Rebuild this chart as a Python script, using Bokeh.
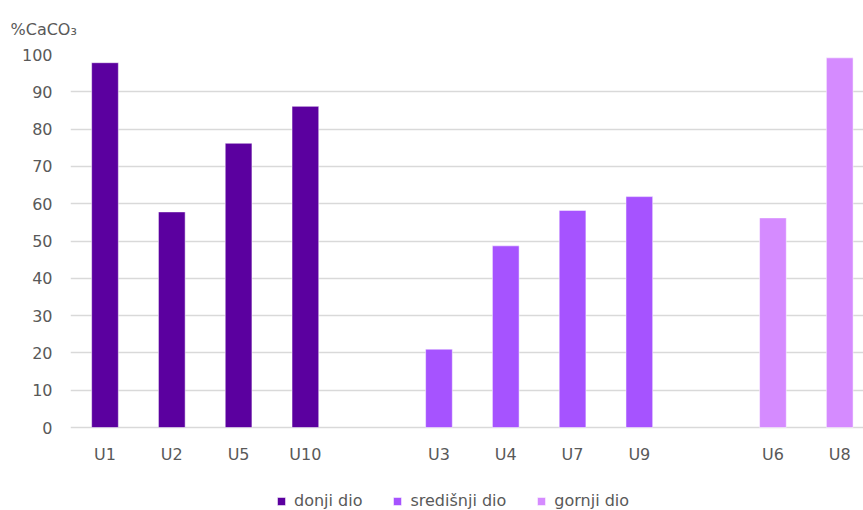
from bokeh.plotting import figure
from bokeh.models import Range1d, FixedTicker, Legend, LegendItem, ColumnDataSource
from bokeh.core.properties import value
from bokeh.embed import file_html
from bokeh.resources import INLINE

# ---- data ----
slots = ["U1", "U2", "U5", "U10", "", "U3", "U4", "U7", "U9", "", "U6", "U8"]
donji_labels = ["U1", "U2", "U5", "U10"]
donji_values = [97.8, 57.8, 76.2, 86.1]
sred_labels = ["U3", "U4", "U7", "U9"]
sred_values = [21.0, 48.7, 58.2, 61.9]
gornji_labels = ["U6", "U8"]
gornji_values = [56.2, 99.1]
series_names = ["donji dio", "središnji dio", "gornji dio"]
colors = ["#5B009F", "#A653FF", "#D58BFF"]
y_ticks = [0, 10, 20, 30, 40, 50, 60, 70, 80, 90, 100]
title_text = "%CaCO₃"

FONT = "DejaVu Sans"
GREY = "#595959"

# frame runs down to the canvas bottom; the value axis starts at 0 (ticks/grid 0..100)
p = figure(width=863, height=510, output_backend="svg", toolbar_location=None,
           x_range=Range1d(-0.5165, 11.356), y_range=Range1d(-22.25, 100),
           min_border_left=70, min_border_right=0, min_border_top=54,
           min_border_bottom=0)
p.outline_line_color = None
p.background_fill_color = "white"
p.border_fill_color = "white"

p.title.text = title_text
p.title.align = "left"
p.title.offset = -60
p.title.standoff = 32
p.title.text_font = FONT
p.title.text_font_size = "16px"
p.title.text_font_style = "normal"
p.title.text_color = GREY

renderers = []
for labels, vals, col in [(donji_labels, donji_values, colors[0]),
                          (sred_labels, sred_values, colors[1]),
                          (gornji_labels, gornji_values, colors[2])]:
    xs = [slots.index(l) for l in labels]
    r = p.vbar(x=xs, top=vals, width=0.4, fill_color=col,
               line_color="white", line_alpha=0.5, line_width=1)
    renderers.append(r)

# category labels under the zero line
cat_x = [i for i, s in enumerate(slots) if s]
cat_t = [s for s in slots if s]
src = ColumnDataSource(dict(x=cat_x, y=[0] * len(cat_x), t=cat_t))
p.text(x="x", y="y", text="t", source=src, y_offset=27,
       text_align="center", text_baseline="middle",
       text_font=value(FONT), text_font_size="16px", text_color=GREY)

p.xaxis.visible = False

ya = p.yaxis[0]
ya.ticker = FixedTicker(ticks=y_ticks)
ya.major_tick_line_color = None
ya.minor_tick_line_color = None
ya.major_tick_out = 0
ya.major_tick_in = 0
ya.axis_line_color = None
ya.major_label_standoff = 18
ya.major_label_text_font = FONT
ya.major_label_text_font_size = "16px"
ya.major_label_text_color = GREY

p.xgrid.grid_line_color = None
p.ygrid.grid_line_color = "#d9d9d9"
p.ygrid.grid_line_width = 1.3
p.ygrid.ticker = FixedTicker(ticks=y_ticks)

legend = Legend(items=[LegendItem(label=n, renderers=[r]) for n, r in zip(series_names, renderers)],
                orientation="horizontal", location=(206, 0),
                glyph_width=10, glyph_height=10, label_standoff=8, spacing=30,
                label_text_font=FONT, label_text_font_size="16px", label_text_color=GREY,
                border_line_color=None, background_fill_alpha=0,
                padding=0, margin=0)
p.add_layout(legend)

open("out.html", "w").write(file_html(p, INLINE))
